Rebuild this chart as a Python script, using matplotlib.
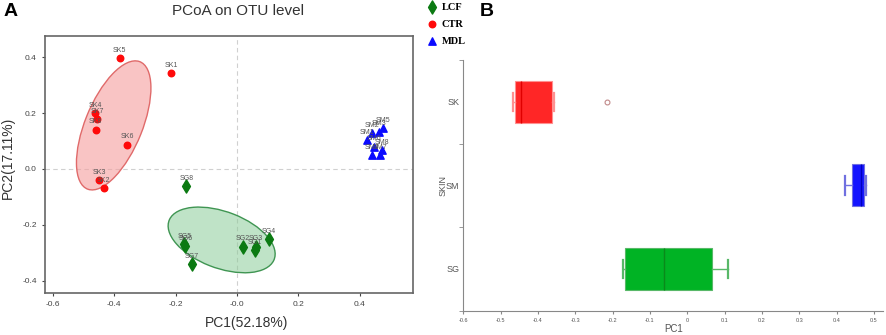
import numpy as np
import matplotlib.pyplot as plt
from matplotlib.patches import Ellipse

plt.rcParams['font.family'] = ['Liberation Sans', 'DejaVu Sans']
plt.rcParams['axes.unicode_minus'] = False

# PCoA scores
sk_names = ["SK1", "SK2", "SK3", "SK4", "SK5", "SK6", "SK7", "SK8"]
sk_pc1 = [-0.215, -0.435, -0.450, -0.462, -0.382, -0.357, -0.455, -0.461]
sk_pc2 = [0.343, -0.068, -0.039, 0.200, 0.398, 0.087, 0.178, 0.141]

sg_names = ["SG1", "SG2", "SG3", "SG4", "SG5", "SG6", "SG7", "SG8"]
sg_pc1 = [0.058, 0.020, 0.061, 0.105, -0.172, -0.168, -0.148, -0.165]
sg_pc2 = [-0.290, -0.278, -0.278, -0.252, -0.268, -0.276, -0.340, -0.062]

sm_names = ["SM1", "SM2", "SM3", "SM4", "SM5", "SM6", "SM7", "SM8"]
sm_pc1 = [0.423, 0.440, 0.462, 0.440, 0.476, 0.446, 0.467, 0.472]
sm_pc2 = [0.104, 0.128, 0.134, 0.050, 0.146, 0.080, 0.050, 0.068]

# group ellipses: centre and two conjugate semi-axes (data units)
sk_ell_center = [-0.402, 0.156]
sk_ell_u = [0.1214, 0.1338]
sk_ell_v = [0.0, 0.1883]
sg_ell_center = [-0.050, -0.254]
sg_ell_u = [0.1716, -0.0688]
sg_ell_v = [-0.0316, -0.0953]

# panel B box statistics on PC1: whislo, q1, median, q3, whishi
box_groups = ["SG", "SM", "SK"]
box_whislo = [-0.171, 0.423, -0.467]
box_q1 = [-0.168, 0.442, -0.4615]
box_med = [-0.0624, 0.4645, -0.446]
box_q3 = [0.0653, 0.473, -0.3616]
box_whishi = [0.109, 0.478, -0.356]
box_fliers = [[], [], [-0.214]]

pcoa_xticks = [-0.6, -0.4, -0.2, 0.0, 0.2, 0.4]
pcoa_xticklabels = ["-0.6", "-0.4", "-0.2", "-0.0", "0.2", "0.4"]
pcoa_yticks = [-0.4, -0.2, 0.0, 0.2, 0.4]
box_xticks = [-0.6, -0.5, -0.4, -0.3, -0.2, -0.1, 0.0, 0.1, 0.2, 0.3, 0.4, 0.5]
box_xticklabels = ["-0.6", "-0.5", "-0.4", "-0.3", "-0.2", "-0.1", "0",
                   "0.1", "0.2", "0.3", "0.4", "0.5"]


def add_ellipse(ax, center, u, v, face, edge):
    m = np.column_stack([u, v])
    U, S, Vt = np.linalg.svd(m)
    angle = np.degrees(np.arctan2(U[1, 0], U[0, 0]))
    ax.add_patch(Ellipse(center, 2 * S[0], 2 * S[1], angle=angle,
                         facecolor=face, edgecolor=edge, lw=1.0, zorder=1))


fig = plt.figure(figsize=(8.86, 3.35), dpi=100)

# ---- panel A
ax = fig.add_axes([45 / 886, 1 - 293 / 335, 368 / 886, 257 / 335])
ax.set_xlim(-0.626, 0.574)
ax.set_ylim(-0.444, 0.476)
ax.axhline(0, color="#d0d0d0", ls=(0, (4, 3)), lw=0.8, zorder=0)
ax.axvline(0, color="#d0d0d0", ls=(0, (4, 3)), lw=0.8, zorder=0)

add_ellipse(ax, sk_ell_center, sk_ell_u, sk_ell_v, (0.96, 0.62, 0.62, 0.6), "#e06a6a")
add_ellipse(ax, sg_ell_center, sg_ell_u, sg_ell_v, (0.55, 0.80, 0.60, 0.55), "#3f9552")

h_sg = ax.scatter(sg_pc1, sg_pc2, marker="d", s=45, color="#0b7a12", zorder=3)
h_sk = ax.scatter(sk_pc1, sk_pc2, marker="o", s=22, color="#ff0a0a", zorder=3)
h_sm = ax.scatter(sm_pc1, sm_pc2, marker="^", s=28, color="#0a0aff", zorder=3)

for names, xs, ys in [(sk_names, sk_pc1, sk_pc2), (sg_names, sg_pc1, sg_pc2),
                      (sm_names, sm_pc1, sm_pc2)]:
    for n, x, y in zip(names, xs, ys):
        ax.annotate(n, (x, y), xytext=(0, 3), textcoords="offset points",
                    ha="center", va="bottom", fontsize=5, color="#555555", zorder=4)

ax.set_xticks(pcoa_xticks)
ax.set_xticklabels(pcoa_xticklabels)
ax.set_yticks(pcoa_yticks)
ax.tick_params(labelsize=6, colors="#444444", length=2.5, width=0.8)
for s in ax.spines.values():
    s.set_color("#666666")
    s.set_linewidth(1.2)
ax.set_xlabel("PC1(52.18%)", fontsize=10, color="#333333")
ax.xaxis.set_label_coords(0.549, -0.117)
ax.xaxis.label.set_va("center")
ax.set_ylabel("PC2(17.11%)", fontsize=10, color="#333333")
ax.yaxis.set_label_coords(-0.1, 0.525)
ax.yaxis.label.set_va("center")
fig.text(238 / 886, 1 - 11 / 335, "PCoA on OTU level", fontsize=11,
         color="#333333", ha="center", va="center")
fig.text(4 / 886, 1 - 11 / 335, "A", fontsize=14, fontweight="bold", va="center")
fig.text(480 / 886, 1 - 11 / 335, "B", fontsize=14, fontweight="bold", va="center")

fig.legend([h_sg, h_sk, h_sm], ["LCF", "CTR", "MDL"], loc="upper left",
           bbox_to_anchor=(422 / 886, 1.012), frameon=False, borderpad=0.1,
           handlelength=0.8, handletextpad=0.5, labelspacing=0.76,
           prop={"family": "Liberation Serif", "weight": "bold", "size": 7.5})

# ---- panel B
ax2 = fig.add_axes([463.3 / 886, 1 - 310.7 / 335, 420 / 886, 250.7 / 335])
fills = ["#00b324", "#1414ff", "#ff2626"]
lines = ["#58b868", "#7070e0", "#ff9090"]
meds = ["#0a8a1a", "#0000c0", "#e00000"]
for i, g in enumerate(box_groups):
    st = [{"whislo": box_whislo[i], "q1": box_q1[i], "med": box_med[i],
           "q3": box_q3[i], "whishi": box_whishi[i], "fliers": box_fliers[i]}]
    ax2.bxp(st, positions=[i], widths=0.5, capwidths=0.22, orientation="horizontal",
            patch_artist=True,
            boxprops=dict(facecolor=fills[i], edgecolor=lines[i], lw=0.8),
            medianprops=dict(color=meds[i], lw=1.0),
            whiskerprops=dict(color=lines[i], lw=1.0),
            capprops=dict(color=lines[i], lw=1.6),
            flierprops=dict(marker="o", markersize=3.5, markerfacecolor="none",
                            markeredgecolor="#c08888", markeredgewidth=0.8))
ax2.set_xlim(-0.6, 0.525)
ax2.set_ylim(-0.5, 2.5)
ax2.set_yticks(range(len(box_groups)))
ax2.set_yticklabels(box_groups)
ax2.set_yticks([-0.5, 0.5, 1.5, 2.5], minor=True)
ax2.tick_params(axis="y", which="major", length=0, labelsize=6.5, colors="#555555", pad=3)
ax2.tick_params(axis="y", which="minor", length=3, color="#888888")
ax2.set_xticks(box_xticks)
ax2.set_xticklabels(box_xticklabels)
ax2.tick_params(axis="x", labelsize=4, colors="#555555", length=2, color="#888888")
for side in ["top", "right"]:
    ax2.spines[side].set_visible(False)
for side in ["left", "bottom"]:
    ax2.spines[side].set_color("#888888")
    ax2.spines[side].set_linewidth(0.8)
ax2.set_xlabel("PC1", fontsize=7, color="#555555")
ax2.xaxis.set_label_coords(0.5, -0.073)
ax2.xaxis.label.set_va("center")
ax2.set_ylabel("SKIN", fontsize=6.5, color="#555555")
ax2.yaxis.set_label_coords(-0.048, 0.5)
ax2.yaxis.label.set_va("center")

fig.savefig("out.png", dpi=100)
